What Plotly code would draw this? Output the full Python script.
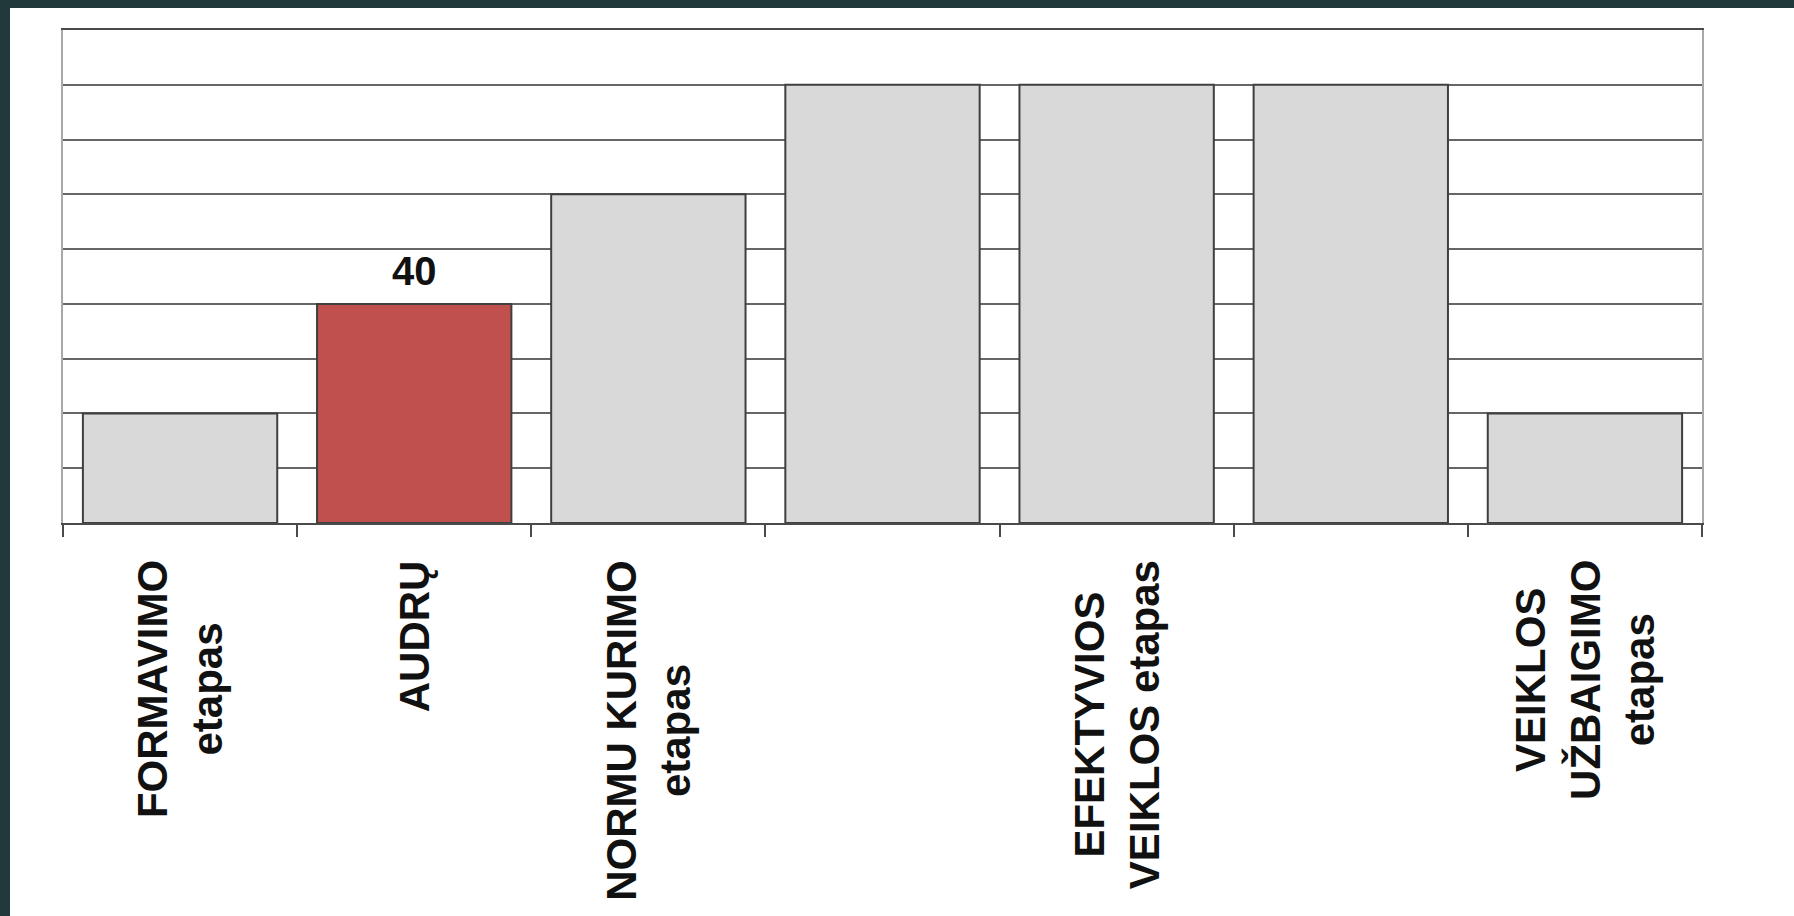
import plotly.graph_objects as go

# ---- data ----
categories = ["FORMAVIMO etapas", "AUDRŲ", "NORMU KURIMO etapas", "",
              "EFEKTYVIOS VEIKLOS etapas", "", "VEIKLOS UŽBAIGIMO etapas"]
tick_labels = ["FORMAVIMO<br>etapas", "AUDRŲ", "NORMU KURIMO<br>etapas", "",
               "EFEKTYVIOS<br>VEIKLOS etapas", "", "VEIKLOS<br>UŽBAIGIMO<br>etapas"]
values = [20, 40, 60, 80, 80, 80, 20]
highlight_index = 1
value_labels = ["", "40", "", "", "", "", ""]

# ---- styling ----
W, H = 1794, 916
ML, MR, MT, MB = 63, 92, 30, 393
PW, PH = W - ML - MR, H - MT - MB

xpos = list(range(len(values)))
colors = ["#D9D9D9"] * len(values)
colors[highlight_index] = "#C0504D"

fig = go.Figure()
fig.add_trace(go.Bar(
    x=xpos, y=values, width=0.83,
    marker=dict(color=colors, line=dict(color="#3F3F3F", width=2)),
    hoverinfo="skip", showlegend=False,
))

FONT = "Liberation Sans, Arial, sans-serif"

# value label(s)
for xi, v, t in zip(xpos, values, value_labels):
    if t:
        fig.add_annotation(x=xi, y=v, text="<b>%s</b>" % t, showarrow=False,
                           yanchor="bottom", yshift=9,
                           font=dict(family=FONT, size=40, color="#111111"))

# rotated category labels
label_top_px = 558
for xi, lab in zip(xpos, tick_labels):
    if lab:
        fig.add_annotation(x=xi, xref="x", y=-(label_top_px - (MT + PH)) / PH, yref="paper",
                           text="<b>%s</b>" % lab, showarrow=False, textangle=-90,
                           xanchor="center", yanchor="top", align="center",
                           font=dict(family=FONT, size=42, color="#111111"))

# dark frame strips (top and left)
dark = "#22393C"
fig.add_shape(type="rect", xref="paper", yref="paper",
              x0=-ML / PW, x1=(10 - ML) / PW, y0=-MB / PH, y1=1 + MT / PH,
              fillcolor=dark, line=dict(width=0), layer="below")
fig.add_shape(type="rect", xref="paper", yref="paper",
              x0=-ML / PW, x1=1 + MR / PW, y0=1 + (MT - 8) / PH, y1=1 + MT / PH,
              fillcolor=dark, line=dict(width=0), layer="below")

n = len(values)
fig.update_layout(
    width=W, height=H,
    margin=dict(l=ML, r=MR, t=MT, b=MB, pad=0),
    paper_bgcolor="white", plot_bgcolor="white",
    bargap=0.17,
    font=dict(family=FONT, color="#111111"),
    xaxis=dict(
        range=[-0.5, n - 0.5], tickmode="array",
        tickvals=[i - 0.5 for i in range(n + 1)],
        showticklabels=False, ticks="outside", ticklen=12, tickwidth=2,
        tickcolor="#4A4A4A", showgrid=False, zeroline=False,
        showline=True, mirror=True, linecolor="#4A4A4A", linewidth=2,
    ),
    yaxis=dict(
        range=[0, 90], dtick=10, tick0=0, showticklabels=False, ticks="",
        showgrid=True, gridcolor="#666666", gridwidth=2, zeroline=False,
        showline=True, mirror=True, linecolor="#A8A8A8", linewidth=2,
    ),
)

fig.write_html("out.html")
